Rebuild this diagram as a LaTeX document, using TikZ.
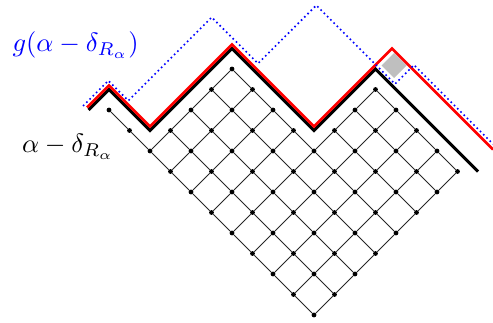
\documentclass[tikz,border=0pt]{standalone}
\begin{document}
\begin{tikzpicture}[x=1pt,y=-1pt,
  latline/.style={line width=0.85pt, black!85},
  latdot/.style={circle, fill=black, inner sep=0pt, minimum size=4.8pt},
  blackpath/.style={line width=3pt, black},
  redpath/.style={line width=2.6pt, red},
  bluepath/.style={line width=1.7pt, blue, dash pattern=on 1.6pt off 3pt},
  graybox/.style={fill=black!25},
  lab/.style={inner sep=0pt, anchor=base west, scale=2.65}]
\useasboundingbox (0,0) rectangle (493,323);
% lattice points
\foreach \j/\m in {0/10,1/8,2/8,3/8,4/8,5/4,6/4,7/4}{
  \foreach \i in {0,...,\m}{
    \node[latdot] (n\i-\j) at ({314+(\j-\i)*20.5},{315-(\i+\j)*20.5}) {};
  }
}
% edges along i
\foreach \j/\m in {0/10,1/8,2/8,3/8,4/8,5/4,6/4,7/4}{
  \pgfmathtruncatemacro\mm{\m-1}
  \foreach \i in {0,...,\mm}{
    \pgfmathtruncatemacro\ii{\i+1}
    \draw[latline] (n\i-\j) -- (n\ii-\j);
  }
}
% edges along j
\foreach \j/\m in {0/8,1/8,2/8,3/8,4/4,5/4,6/4}{
  \pgfmathtruncatemacro\jj{\j+1}
  \foreach \i in {0,...,\m}{
    \draw[latline] (n\i-\j) -- (n\i-\jj);
  }
}
% gray box
\fill[graybox] (394,53) -- (406.5,65.5) -- (394,78) -- (381.5,65.5) -- cycle;
% black boundary
\draw[blackpath] (88.5,110) -- (109,89.5) -- (150,130.5) -- (232,48.5) -- (314,130.5) -- (375.5,69) -- (478,171.5);
% red boundary
\draw[redpath] (87,107.5) -- (109,85.5) -- (150,126.5) -- (232,44.5) -- (314,126.5) -- (392,48.5) -- (493,149.5);
% blue dotted boundary
\draw[bluepath] (83,106) -- (108.3,80.7) -- (128.3,100.7) -- (211.7,17.3) -- (258,63.5) -- (316.3,5.3) -- (395,84) -- (414,65) -- (493,144);
% labels
\node[lab, blue] (glab) at (12,51.5) {$g(\alpha-\delta_{R_\alpha})$};
\node[lab] (alab) at (21.5,153) {$\alpha-\delta_{R_\alpha}$};
\end{tikzpicture}
\end{document}
